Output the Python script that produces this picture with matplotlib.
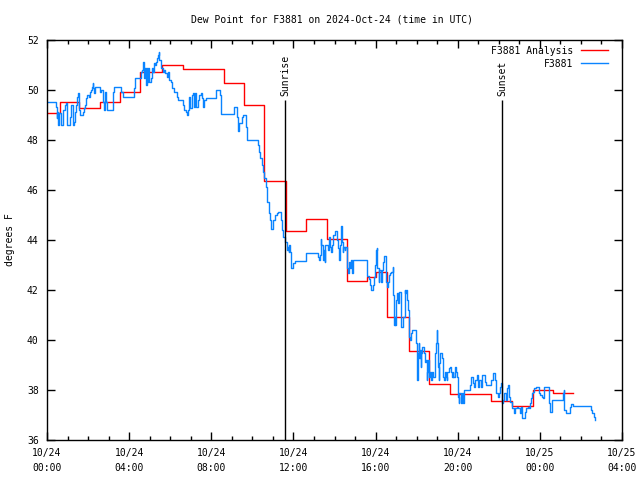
import matplotlib
matplotlib.use("Agg")
import matplotlib.pyplot as plt
from matplotlib.ticker import MultipleLocator

# hours since 2024-10-24 00:00 UTC
red_t = [0.00, 0.62, 1.58, 2.60, 3.57, 4.55, 5.62, 6.60, 8.60, 9.57, 10.57,
         11.62, 12.63, 13.62, 14.62, 15.60, 16.00, 16.55, 17.62, 18.62, 19.62,
         21.62, 22.64, 23.66, 24.66, 25.60]
red_v = [49.07, 49.50, 49.30, 49.53, 49.90, 50.70, 51.00, 50.83, 50.27, 49.40, 46.35,
         44.36, 44.83, 44.04, 42.36, 42.50, 42.73, 40.90, 39.55, 38.23, 37.83,
         37.55, 37.36, 38.00, 37.87, 37.87]

blue_t = [0.00, 0.42, 0.47, 0.50, 0.54, 0.60, 0.67, 0.80, 0.86, 0.93, 0.99, 1.12, 1.19,
          1.25, 1.32, 1.36, 1.43, 1.48, 1.51, 1.54, 1.57, 1.61, 1.74, 1.80, 1.87, 1.90,
          1.96, 2.03, 2.09, 2.14, 2.19, 2.22, 2.26, 2.29, 2.32, 2.58, 2.65, 2.71, 2.74,
          2.78, 2.81, 2.86, 2.91, 3.23, 3.26, 3.62, 3.69, 4.24, 4.29, 4.56, 4.61, 4.66,
          4.69, 4.72, 4.76, 4.81, 4.85, 4.89, 4.93, 4.98, 5.05, 5.10, 5.15, 5.21, 5.26,
          5.31, 5.37, 5.41, 5.44, 5.47, 5.54, 5.57, 5.63, 5.70, 5.76, 5.83, 5.91, 5.96,
          6.04, 6.10, 6.17, 6.33, 6.40, 6.62, 6.69, 6.75, 6.82, 6.88, 6.93, 6.98, 7.04,
          7.11, 7.17, 7.21, 7.27, 7.34, 7.40, 7.48, 7.53, 7.60, 7.66, 7.73, 8.21, 8.41,
          8.47, 9.12, 9.24, 9.29, 9.35, 9.48, 9.55, 9.67, 9.74, 10.26, 10.32, 10.39,
          10.45, 10.52, 10.58, 10.65, 10.73, 10.79, 10.86, 10.92, 10.99, 11.12, 11.18,
          11.25, 11.38, 11.43, 11.48, 11.61, 11.67, 11.70, 11.74, 11.77, 11.80, 11.83,
          11.87, 11.90, 12.00, 12.09, 12.61, 13.21, 13.26, 13.29, 13.33, 13.36, 13.42,
          13.49, 13.52, 13.55, 13.68, 13.72, 13.78, 13.85, 13.88, 13.94, 14.01, 14.11,
          14.17, 14.20, 14.27, 14.33, 14.37, 14.40, 14.43, 14.50, 14.53, 14.59, 14.63,
          14.66, 14.69, 14.76, 14.82, 14.85, 14.92, 15.60, 15.66, 15.73, 15.79, 15.86,
          15.92, 15.99, 16.02, 16.05, 16.09, 16.15, 16.18, 16.25, 16.30, 16.35, 16.41,
          16.51, 16.54, 16.61, 16.64, 16.70, 16.77, 16.83, 16.86, 16.90, 16.93, 16.96,
          16.99, 17.03, 17.09, 17.16, 17.22, 17.25, 17.35, 17.42, 17.45, 17.48, 17.51,
          17.58, 17.61, 17.64, 17.68, 17.71, 17.77, 17.97, 18.00, 18.03, 18.07, 18.10,
          18.13, 18.16, 18.20, 18.23, 18.26, 18.36, 18.39, 18.46, 18.49, 18.52, 18.55,
          18.58, 18.62, 18.65, 18.68, 18.72, 18.75, 18.81, 18.88, 18.91, 18.94, 18.98,
          19.01, 19.04, 19.07, 19.11, 19.14, 19.24, 19.27, 19.30, 19.33, 19.37, 19.43,
          19.46, 19.50, 19.56, 19.62, 19.69, 19.72, 19.75, 19.79, 19.85, 19.92, 19.95,
          20.01, 20.05, 20.08, 20.14, 20.21, 20.24, 20.31, 20.60, 20.66, 20.73, 20.79,
          20.86, 20.92, 20.99, 21.05, 21.12, 21.18, 21.31, 21.38, 21.64, 21.70, 21.82,
          21.86, 21.94, 22.01, 22.06, 22.11, 22.17, 22.22, 22.27, 22.33, 22.40, 22.45,
          22.50, 22.55, 22.66, 22.72, 22.79, 22.89, 22.95, 23.02, 23.08, 23.15, 23.28,
          23.34, 23.41, 23.47, 23.54, 23.57, 23.60, 23.65, 23.70, 23.83, 23.96, 24.02,
          24.09, 24.15, 24.22, 24.46, 24.51, 24.58, 25.11, 25.16, 25.19, 25.26, 25.45,
          25.52, 25.63, 26.49, 26.56, 26.62, 26.69]
blue_v = [49.53, 49.33, 48.87, 49.13, 48.60, 49.07, 48.60, 49.20, 49.40, 49.47, 48.60, 48.93, 49.40,
          48.60, 48.73, 49.13, 49.40, 49.73, 49.87, 49.47, 49.20, 49.00, 49.13, 49.27, 49.40, 49.67,
          49.80, 49.73, 49.93, 50.00, 50.13, 50.27, 50.07, 49.87, 50.13, 49.93, 50.00, 49.93, 49.53,
          49.20, 49.93, 49.53, 49.20, 49.93, 50.13, 49.93, 49.73, 50.07, 50.47, 50.73, 50.80, 50.93,
          51.11, 50.47, 50.87, 50.20, 50.89, 50.33, 50.87, 50.33, 50.47, 50.89, 50.73, 51.07, 51.00,
          51.13, 51.27, 51.40, 51.51, 51.20, 51.07, 50.87, 50.73, 50.80, 50.67, 50.53, 50.73, 50.40,
          50.33, 50.07, 49.93, 49.73, 49.60, 49.40, 49.20, 49.13, 49.00, 49.20, 49.73, 49.27, 49.80,
          49.87, 49.33, 49.87, 49.33, 49.60, 49.80, 49.87, 49.67, 49.33, 49.60, 49.69, 50.00, 49.80,
          49.03, 49.33, 48.93, 48.36, 48.67, 48.93, 49.00, 48.53, 48.00, 47.80, 47.53, 47.27,
          47.00, 46.73, 46.47, 46.10, 45.50, 45.07, 44.80, 44.44, 44.80, 45.00, 45.07,
          45.13, 44.80, 44.40, 44.11, 43.93, 43.73, 43.60, 43.73, 43.53, 43.80, 43.53,
          43.13, 42.87, 43.07, 43.17, 43.47, 43.33, 43.20, 43.40, 44.03, 43.80, 43.20,
          43.60, 43.13, 43.80, 43.60, 44.13, 43.73, 43.53, 43.80, 44.20, 44.36, 44.00,
          43.67, 43.20, 43.80, 44.56, 43.93, 43.53, 43.73, 43.60, 43.73, 43.27, 42.87,
          42.67, 43.13, 42.87, 43.20, 42.67, 43.20, 42.56, 42.43, 42.20, 42.00, 42.20,
          42.53, 43.00, 43.60, 43.67, 42.87, 42.33, 42.80, 42.33, 42.80, 43.13, 43.36,
          42.33, 42.13, 42.33, 42.60, 42.67, 42.73, 42.91, 41.80, 40.60, 40.93, 40.60,
          41.60, 41.87, 41.47, 41.93, 41.33, 40.53, 40.93, 42.00, 41.87, 42.00, 41.60,
          41.20, 40.67, 40.13, 40.00, 40.27, 40.40, 39.87, 38.93, 38.40, 39.47, 39.87,
          39.27, 39.60, 38.93, 39.47, 39.73, 39.47, 39.13, 39.20, 38.40, 38.73, 39.20,
          38.73, 38.53, 38.73, 38.53, 38.40, 38.73, 38.53, 38.73, 39.47, 39.87, 40.40,
          39.87, 38.93, 38.40, 39.07, 39.47, 39.27, 38.93, 38.53, 38.40, 38.73, 38.53,
          38.40, 38.73, 38.87, 38.93, 38.73, 38.53, 38.73, 38.53, 38.93, 38.73, 38.53,
          37.73, 37.47, 37.87, 37.47, 37.87, 37.47, 38.00, 38.20, 38.53, 38.27, 38.13,
          38.40, 38.60, 38.13, 38.40, 38.13, 38.60, 38.33, 38.20, 38.40, 38.69, 38.40,
          37.87, 37.73, 37.87, 38.13, 38.27, 37.47, 37.60, 37.87, 37.60, 38.07, 38.20,
          37.73, 37.53, 37.27, 37.07, 37.27, 37.33, 37.27, 37.07, 37.33, 36.87, 37.13,
          37.27, 37.33, 37.27, 37.47, 37.67, 37.87, 37.93, 38.07, 38.13, 37.87, 37.80,
          37.73, 37.67, 38.11, 37.47, 37.13, 37.60, 37.87, 38.00, 37.20, 37.07, 37.33,
          37.44, 37.36, 37.20, 37.07, 36.93, 36.80]

x_ticks = [0, 4, 8, 12, 16, 20, 24, 28]
x_tick_labels = ["10/24\n00:00", "10/24\n04:00", "10/24\n08:00", "10/24\n12:00",
                 "10/24\n16:00", "10/24\n20:00", "10/25\n00:00", "10/25\n04:00"]
y_ticks = [36, 38, 40, 42, 44, 46, 48, 50, 52]
sunrise_h = 11.59
sunset_h = 22.16
sun_line_top = 49.6

FONT = "DejaVu Sans Mono"
FS = 7

fig = plt.figure(figsize=(6.4, 4.8), dpi=100)
ax = fig.add_axes([47 / 640, 40 / 480, 575 / 640, 400 / 480])

ax.plot(red_t, red_v, drawstyle="steps-post", color="#ff0000", lw=1.0,
        label="F3881 Analysis")
ax.plot(blue_t, blue_v, drawstyle="steps-post", color="#0a84ff", lw=1.0,
        label="F3881")

for h, name in [(sunrise_h, "Sunrise"), (sunset_h, "Sunset")]:
    ax.vlines(h, 36, sun_line_top, color="black", lw=1.0)
    ax.text(h, sun_line_top + 0.15, name, rotation=90, ha="center", va="bottom",
            family=FONT, fontsize=FS)

ax.set_xlim(0, 28)
ax.set_ylim(36, 52)
ax.set_xticks(x_ticks)
ax.set_xticklabels(x_tick_labels, family=FONT, fontsize=FS, linespacing=1.6)
ax.xaxis.set_minor_locator(MultipleLocator(1))
ax.set_yticks(y_ticks)
ax.set_yticklabels([str(v) for v in y_ticks], family=FONT, fontsize=FS)
ax.tick_params(which="major", direction="in", length=6, width=1,
               top=True, right=True, pad=6)
ax.tick_params(axis="x", which="minor", direction="in", length=3, width=1,
               top=True, bottom=True)
for s in ax.spines.values():
    s.set_linewidth(1.0)

leg = ax.legend(loc="upper right", bbox_to_anchor=(1 - 8 / 575, 1.0),
                frameon=False, markerfirst=False,
                prop={"family": FONT, "size": FS}, handlelength=2.8,
                handletextpad=0.8, labelspacing=0.3, borderaxespad=0.2)

fig.text(332 / 640, 1 - 19 / 480, "Dew Point for F3881 on 2024-Oct-24 (time in UTC)",
         ha="center", va="center", family=FONT, fontsize=FS)
fig.text(10 / 640, 0.5, "degrees F", rotation=90, ha="center", va="center",
         family=FONT, fontsize=FS)

fig.savefig("out.png", dpi=100)
